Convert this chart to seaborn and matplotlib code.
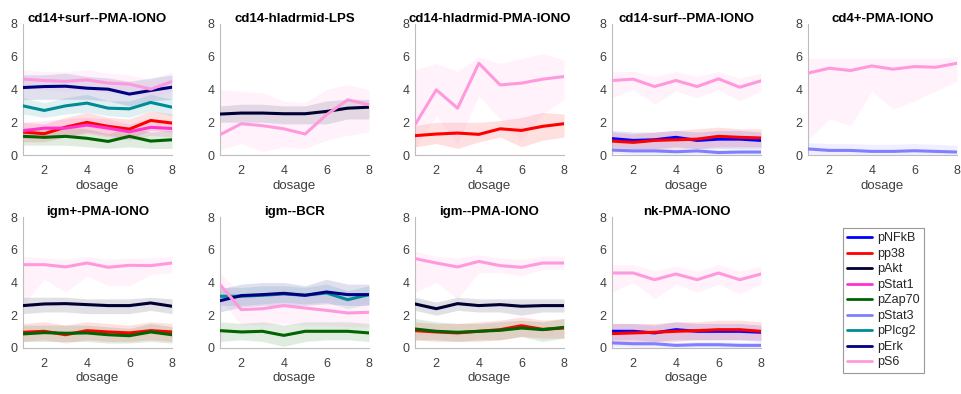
import numpy as np
import pandas as pd
import matplotlib
matplotlib.use("Agg")
import matplotlib.pyplot as plt
from matplotlib.lines import Line2D
import seaborn as sns

# ---------------- data ----------------
DOSAGE = [1, 2, 3, 4, 5, 6, 7, 8]
MARKERS = ["pNFkB", "pp38", "pAkt", "pStat1", "pZap70", "pStat3", "pPlcg2", "pErk", "pS6"]
COLORS = ["#0000FF", "#FF0000", "#000033", "#FF33CC", "#006400", "#8080FF", "#008B96", "#000080", "#FF99DD"]
TITLES = ["cd14+surf--PMA-IONO", "cd14-hladrmid-LPS", "cd14-hladrmid-PMA-IONO", "cd14-surf--PMA-IONO",
          "cd4+-PMA-IONO", "igm+-PMA-IONO", "igm--BCR", "igm--PMA-IONO", "nk-PMA-IONO"]
X_TICKS = [2, 4, 6, 8]
Y_TICKS = [0, 2, 4, 6, 8]

# panel 1: cd14+surf--PMA-IONO
MEAN_1 = {"pp38": [1.40, 1.30, 1.70, 1.99, 1.75, 1.58, 2.11, 1.95],
          "pStat1": [1.48, 1.64, 1.64, 1.83, 1.64, 1.42, 1.69, 1.62],
          "pZap70": [1.14, 1.08, 1.14, 1.02, 0.83, 1.14, 0.85, 0.93],
          "pPlcg2": [3.00, 2.72, 3.00, 3.17, 2.86, 2.82, 3.21, 2.92],
          "pErk": [4.12, 4.18, 4.20, 4.08, 4.02, 3.72, 3.94, 4.14],
          "pS6": [4.63, 4.55, 4.50, 4.59, 4.39, 4.33, 4.02, 4.49]}
LO_1 = {"pp38": [0.8, 0.8, 1.1, 1.4, 1.2, 1.0, 1.5, 1.4],
        "pStat1": [1.0, 1.1, 1.1, 1.3, 1.1, 0.9, 1.2, 1.1],
        "pZap70": [0.6, 0.6, 0.6, 0.5, 0.4, 0.5, 0.4, 0.4],
        "pPlcg2": [2.5, 2.3, 2.5, 2.6, 2.4, 2.3, 2.7, 2.4],
        "pErk": [3.4, 3.4, 3.4, 3.4, 3.3, 3.0, 3.3, 3.4],
        "pS6": [4.0, 4.0, 3.9, 4.0, 3.8, 3.7, 3.5, 3.9]}
HI_1 = {"pp38": [2.0, 1.9, 2.3, 2.6, 2.3, 2.2, 2.7, 2.5],
        "pStat1": [2.0, 2.1, 2.2, 2.3, 2.2, 1.9, 2.2, 2.1],
        "pZap70": [1.7, 1.6, 1.7, 1.6, 1.3, 1.7, 1.4, 1.5],
        "pPlcg2": [3.5, 3.2, 3.5, 3.7, 3.3, 3.3, 3.7, 3.4],
        "pErk": [4.9, 4.9, 5.0, 4.8, 4.7, 4.5, 4.7, 4.9],
        "pS6": [5.2, 5.1, 5.1, 5.2, 5.0, 4.9, 4.6, 5.1]}

# panel 2: cd14-hladrmid-LPS
MEAN_2 = {"pAkt": [2.50, 2.56, 2.56, 2.52, 2.52, 2.66, 2.86, 2.92],
          "pS6": [1.24, 1.91, 1.79, 1.60, 1.28, 2.46, 3.37, 3.07]}
LO_2 = {"pAkt": [2.0, 2.0, 2.0, 1.9, 1.9, 1.9, 2.2, 2.2],
        "pS6": [0.3, 0.7, 0.2, 0.5, 0.4, 0.9, 1.2, 1.4]}
HI_2 = {"pAkt": [3.0, 3.1, 3.1, 3.0, 3.0, 3.3, 3.4, 3.4],
        "pS6": [4.0, 3.9, 3.8, 3.3, 3.2, 4.0, 4.3, 4.0]}

# panel 3: cd14-hladrmid-PMA-IONO
MEAN_3 = {"pp38": [1.18, 1.28, 1.34, 1.26, 1.60, 1.50, 1.75, 1.91],
          "pS6": [1.85, 3.98, 2.86, 5.60, 4.28, 4.39, 4.63, 4.79]}
LO_3 = {"pp38": [0.5, 0.7, 0.4, 0.8, 1.1, 0.5, 0.9, 1.1],
        "pS6": [0.4, 2.4, 0.7, 3.6, 2.2, 0.9, 2.5, 3.4]}
HI_3 = {"pp38": [1.8, 2.0, 2.0, 2.0, 2.1, 2.3, 2.6, 2.5],
        "pS6": [5.2, 5.6, 5.1, 6.0, 5.6, 5.9, 6.2, 5.8]}

# panel 4: cd14-surf--PMA-IONO
MEAN_4 = {"pNFkB": [1.00, 0.89, 0.93, 1.08, 0.89, 0.97, 0.97, 0.89],
          "pp38": [0.85, 0.77, 0.89, 0.93, 0.97, 1.14, 1.08, 1.04],
          "pStat3": [0.30, 0.25, 0.25, 0.20, 0.25, 0.15, 0.18, 0.18],
          "pS6": [4.55, 4.63, 4.18, 4.55, 4.18, 4.65, 4.14, 4.53]}
LO_4 = {"pNFkB": [0.5, 0.4, 0.4, 0.5, 0.4, 0.4, 0.4, 0.4],
        "pp38": [0.3, 0.3, 0.3, 0.4, 0.4, 0.5, 0.5, 0.5],
        "pStat3": [0.1, 0.05, 0.05, 0.0, 0.05, 0.0, 0.0, 0.0],
        "pS6": [3.5, 4.0, 3.1, 3.9, 3.5, 4.0, 3.3, 3.9]}
HI_4 = {"pNFkB": [1.5, 1.4, 1.4, 1.5, 1.4, 1.5, 1.5, 1.4],
        "pp38": [1.4, 1.3, 1.4, 1.5, 1.6, 1.7, 1.6, 1.6],
        "pStat3": [0.5, 0.45, 0.45, 0.4, 0.45, 0.35, 0.4, 0.4],
        "pS6": [5.1, 5.1, 4.8, 5.1, 4.8, 5.1, 4.7, 5.0]}

# panel 5: cd4+-PMA-IONO
MEAN_5 = {"pStat3": [0.37, 0.28, 0.28, 0.22, 0.22, 0.26, 0.22, 0.18],
          "pS6": [5.00, 5.30, 5.16, 5.44, 5.24, 5.40, 5.36, 5.60]}
LO_5 = {"pStat3": [0.05, 0.0, 0.0, 0.0, 0.0, 0.0, 0.0, 0.0],
        "pS6": [0.9, 2.2, 1.8, 3.9, 2.8, 3.3, 3.9, 4.5]}
HI_5 = {"pStat3": [0.75, 0.7, 0.7, 0.65, 0.65, 0.7, 0.65, 0.6],
        "pS6": [5.9, 5.9, 5.9, 5.9, 5.9, 5.9, 5.9, 6.0]}

# panel 6: igm+-PMA-IONO
MEAN_6 = {"pp38": [0.96, 1.02, 0.81, 1.06, 0.98, 0.92, 1.06, 0.98],
          "pAkt": [2.59, 2.69, 2.71, 2.65, 2.59, 2.59, 2.75, 2.55],
          "pZap70": [0.86, 0.94, 0.90, 0.92, 0.81, 0.75, 0.98, 0.81],
          "pS6": [5.09, 5.09, 4.95, 5.19, 4.93, 5.05, 5.03, 5.19]}
LO_6 = {"pp38": [0.4, 0.5, 0.3, 0.5, 0.4, 0.4, 0.5, 0.4],
        "pAkt": [2.1, 2.2, 2.2, 2.1, 2.1, 2.1, 2.3, 2.1],
        "pZap70": [0.4, 0.4, 0.4, 0.4, 0.3, 0.3, 0.4, 0.3],
        "pS6": [2.6, 4.2, 3.4, 4.4, 3.8, 3.8, 4.5, 4.6]}
HI_6 = {"pp38": [1.5, 1.6, 1.4, 1.6, 1.5, 1.4, 1.6, 1.5],
        "pAkt": [3.1, 3.1, 3.1, 3.0, 3.0, 3.0, 3.1, 3.0],
        "pZap70": [1.4, 1.4, 1.4, 1.4, 1.3, 1.2, 1.5, 1.3],
        "pS6": [5.6, 5.5, 5.4, 5.6, 5.4, 5.5, 5.5, 5.6]}

# panel 7: igm--BCR
MEAN_7 = {"pZap70": [1.06, 0.98, 1.02, 0.77, 1.02, 1.02, 1.02, 0.92],
          "pPlcg2": [3.16, 3.16, 3.22, 3.30, 3.22, 3.36, 2.95, 3.26],
          "pErk": [2.89, 3.20, 3.26, 3.34, 3.22, 3.42, 3.26, 3.26],
          "pS6": [3.87, 2.34, 2.40, 2.59, 2.44, 2.30, 2.14, 2.18]}
LO_7 = {"pZap70": [0.4, 0.5, 0.4, 0.1, 0.4, 0.5, 0.5, 0.4],
        "pPlcg2": [2.6, 2.6, 2.7, 2.8, 2.7, 2.8, 2.4, 2.7],
        "pErk": [2.2, 2.5, 2.6, 2.6, 2.6, 2.7, 2.6, 2.6],
        "pS6": [3.0, 1.4, 1.4, 1.5, 1.4, 1.4, 1.3, 1.3]}
HI_7 = {"pZap70": [1.6, 1.5, 1.6, 1.4, 1.6, 1.6, 1.6, 1.5],
        "pPlcg2": [3.7, 3.7, 3.8, 3.8, 3.7, 3.9, 3.5, 3.8],
        "pErk": [3.6, 3.9, 4.0, 4.0, 3.8, 4.2, 3.9, 3.9],
        "pS6": [4.6, 3.3, 3.4, 3.6, 3.4, 3.2, 3.0, 3.1]}

# panel 8: igm--PMA-IONO
MEAN_8 = {"pp38": [1.06, 0.98, 0.92, 1.02, 1.12, 1.36, 1.14, 1.22],
          "pAkt": [2.69, 2.40, 2.71, 2.59, 2.65, 2.55, 2.59, 2.59],
          "pZap70": [1.16, 1.02, 0.96, 1.02, 1.08, 1.22, 1.12, 1.26],
          "pS6": [5.46, 5.19, 4.95, 5.29, 5.03, 4.93, 5.19, 5.19]}
LO_8 = {"pp38": [0.5, 0.4, 0.4, 0.4, 0.5, 0.7, 0.6, 0.6],
        "pAkt": [2.3, 2.0, 2.3, 2.2, 2.2, 2.0, 2.2, 2.2],
        "pZap70": [0.5, 0.5, 0.4, 0.5, 0.5, 0.7, 0.4, 0.6],
        "pS6": [3.4, 4.0, 3.0, 4.6, 4.6, 4.4, 4.8, 4.8]}
HI_8 = {"pp38": [1.6, 1.5, 1.5, 1.6, 1.7, 1.9, 1.7, 1.8],
        "pAkt": [3.1, 2.8, 3.1, 3.0, 3.0, 3.0, 3.0, 3.0],
        "pZap70": [1.8, 1.6, 1.5, 1.5, 1.6, 1.7, 1.6, 1.8],
        "pS6": [5.9, 5.6, 5.5, 5.7, 5.5, 5.4, 5.6, 5.6]}

# panel 9: nk-PMA-IONO
MEAN_9 = {"pNFkB": [1.02, 1.02, 0.92, 1.12, 1.02, 1.02, 1.02, 0.96],
          "pp38": [0.88, 0.92, 0.96, 1.02, 1.06, 1.12, 1.12, 1.02],
          "pStat3": [0.31, 0.26, 0.26, 0.16, 0.20, 0.20, 0.16, 0.16],
          "pS6": [4.58, 4.58, 4.17, 4.52, 4.17, 4.58, 4.17, 4.52]}
LO_9 = {"pNFkB": [0.5, 0.5, 0.4, 0.5, 0.5, 0.5, 0.5, 0.4],
        "pp38": [0.3, 0.3, 0.4, 0.4, 0.5, 0.5, 0.5, 0.5],
        "pStat3": [0.1, 0.05, 0.05, 0.0, 0.0, 0.0, 0.0, 0.0],
        "pS6": [3.4, 4.0, 3.0, 3.9, 3.4, 3.9, 3.3, 3.9]}
HI_9 = {"pNFkB": [1.5, 1.5, 1.4, 1.6, 1.5, 1.5, 1.5, 1.4],
        "pp38": [1.5, 1.5, 1.5, 1.6, 1.6, 1.7, 1.7, 1.6],
        "pStat3": [0.5, 0.45, 0.45, 0.35, 0.4, 0.4, 0.35, 0.35],
        "pS6": [5.1, 5.1, 4.7, 5.0, 4.7, 5.1, 4.7, 5.0]}

PANELS = [(MEAN_1, LO_1, HI_1), (MEAN_2, LO_2, HI_2), (MEAN_3, LO_3, HI_3),
          (MEAN_4, LO_4, HI_4), (MEAN_5, LO_5, HI_5), (MEAN_6, LO_6, HI_6),
          (MEAN_7, LO_7, HI_7), (MEAN_8, LO_8, HI_8), (MEAN_9, LO_9, HI_9)]

# ---------------- style ----------------
sns.set_style("white")
plt.rcParams["font.family"] = ["Liberation Sans", "DejaVu Sans"]
palette = dict(zip(MARKERS, COLORS))

W, H = 961, 394
fig = plt.figure(figsize=(W / 100, H / 100), dpi=100)

col_left = [23, 220, 415, 612, 808]
ax_w = 149
rows = [(24, 155), (217, 348)]

for i, (title, (mean, lo, hi)) in enumerate(zip(TITLES, PANELS)):
    r, c = divmod(i, 5)
    top, bot = rows[r]
    ax = fig.add_axes([col_left[c] / W, 1 - bot / H, ax_w / W, (bot - top) / H])
    order = [m for m in MARKERS if m in mean]
    for m in order:
        ax.fill_between(DOSAGE, lo[m], hi[m], color=palette[m], alpha=0.12, linewidth=0, zorder=1)
    df = pd.DataFrame([{"dosage": d, "value": v, "marker": m}
                       for m in order for d, v in zip(DOSAGE, mean[m])])
    sns.lineplot(data=df, x="dosage", y="value", hue="marker", hue_order=order,
                 palette=palette, linewidth=2.2, legend=False, ax=ax, zorder=3)
    ax.set_xlim(1, 8)
    ax.set_ylim(0, 8)
    ax.set_xticks(X_TICKS)
    ax.set_yticks(Y_TICKS)
    ax.set_title(title, fontsize=9.5, fontweight="bold", color="black", pad=1.5)
    ax.set_xlabel("dosage", fontsize=9.5, color="#404040", labelpad=2)
    ax.set_ylabel("")
    for s in ["top", "right"]:
        ax.spines[s].set_visible(False)
    for s in ["left", "bottom"]:
        ax.spines[s].set_color("#bdbdbd")
        ax.spines[s].set_linewidth(0.8)
    ax.tick_params(axis="both", direction="in", length=2.5, width=0.6, color="#bdbdbd",
                   labelsize=9, labelcolor="#404040")
    ax.tick_params(axis="x", pad=7)
    ax.tick_params(axis="y", pad=4)

handles = [Line2D([0], [0], color=palette[m], lw=2) for m in MARKERS]
leg = fig.legend(handles, MARKERS, loc="upper left", bbox_to_anchor=(843 / W, 1 - 228 / H),
                 frameon=True, fancybox=False, fontsize=9, handlelength=2.0,
                 labelspacing=0.28, borderpad=0.35, handletextpad=0.35, borderaxespad=0)
leg.get_frame().set_edgecolor("#808080")
leg.get_frame().set_linewidth(0.8)

fig.savefig("out.png", dpi=100)
